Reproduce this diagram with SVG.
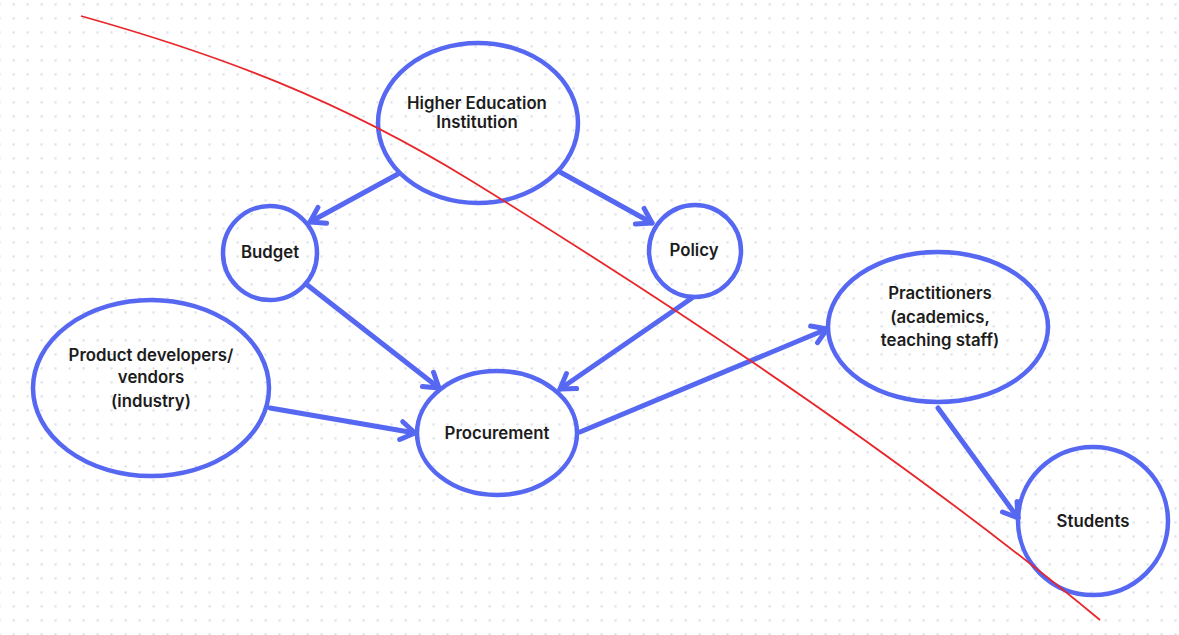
<svg xmlns="http://www.w3.org/2000/svg" width="1179" height="635" viewBox="0 0 1179 635">
<defs>
<pattern id="dots" x="12.5" y="3.3" width="14" height="14" patternUnits="userSpaceOnUse">
<rect x="0" y="0" width="2.2" height="2.2" fill="#dcdfe8"/>
</pattern>
<marker id="arr" markerUnits="userSpaceOnUse" markerWidth="30" markerHeight="30" viewBox="-20 -15 30 30" refX="0" refY="0" orient="auto">
<path d="M-14,-9 L0,0 L-14,9" fill="none" stroke="#5668f2" stroke-width="5" stroke-linecap="round" stroke-linejoin="round"/>
</marker>
<style>
.n{fill:none;stroke:#5668f2;stroke-width:4.5}
.t{font-family:Inter,"Liberation Sans",sans-serif;font-weight:600;font-size:16.8px;fill:#1c1c1c;text-anchor:middle}
.c{fill:none;stroke:#5668f2;stroke-width:5;stroke-linecap:round}
</style>
</defs>
<rect width="1179" height="635" fill="#ffffff"/>
<rect width="1179" height="635" fill="url(#dots)"/>
<g id="connectors">
<line class="c" x1="398" y1="174" x2="310" y2="222" marker-end="url(#arr)"/>
<line class="c" x1="560" y1="172" x2="652" y2="223" marker-end="url(#arr)"/>
<line class="c" x1="306" y1="284" x2="439" y2="388" marker-end="url(#arr)"/>
<line class="c" x1="692" y1="298" x2="560" y2="389" marker-end="url(#arr)"/>
<line class="c" x1="270" y1="408" x2="415" y2="433" marker-end="url(#arr)"/>
<line class="c" x1="580" y1="432" x2="827" y2="329" marker-end="url(#arr)"/>
<line class="c" x1="938" y1="408" x2="1018" y2="518" marker-end="url(#arr)"/>
</g>
<g id="hei">
<ellipse class="n" cx="478" cy="123" rx="100" ry="80"/>
<text class="t" x="477" y="109">Higher Education</text>
<text class="t" x="477" y="128">Institution</text>
</g>
<g id="budget">
<circle class="n" cx="270" cy="253" r="47"/>
<text class="t" x="270" y="258">Budget</text>
</g>
<g id="policy">
<circle class="n" cx="695" cy="251" r="46"/>
<text class="t" x="694" y="256">Policy</text>
</g>
<g id="vendors">
<ellipse class="n" cx="151" cy="388" rx="118" ry="88"/>
<text class="t" x="151" y="361">Product developers/</text>
<text class="t" x="151" y="383">vendors</text>
<text class="t" x="151" y="407">(industry)</text>
</g>
<g id="procurement">
<ellipse class="n" cx="497" cy="433" rx="80" ry="62"/>
<text class="t" x="497" y="439">Procurement</text>
</g>
<g id="practitioners">
<ellipse class="n" cx="938" cy="327" rx="110" ry="75"/>
<text class="t" x="940" y="299">Practitioners</text>
<text class="t" x="940" y="323">(academics,</text>
<text class="t" x="940" y="346">teaching staff)</text>
</g>
<g id="students">
<ellipse class="n" cx="1093" cy="521" rx="75" ry="74"/>
<text class="t" x="1093" y="527">Students</text>
</g>
<path d="M81,16 C220,55 340,100 470,180 S870,430 1100,620" fill="none" stroke="#e8262a" stroke-width="1.8"/>
</svg>
